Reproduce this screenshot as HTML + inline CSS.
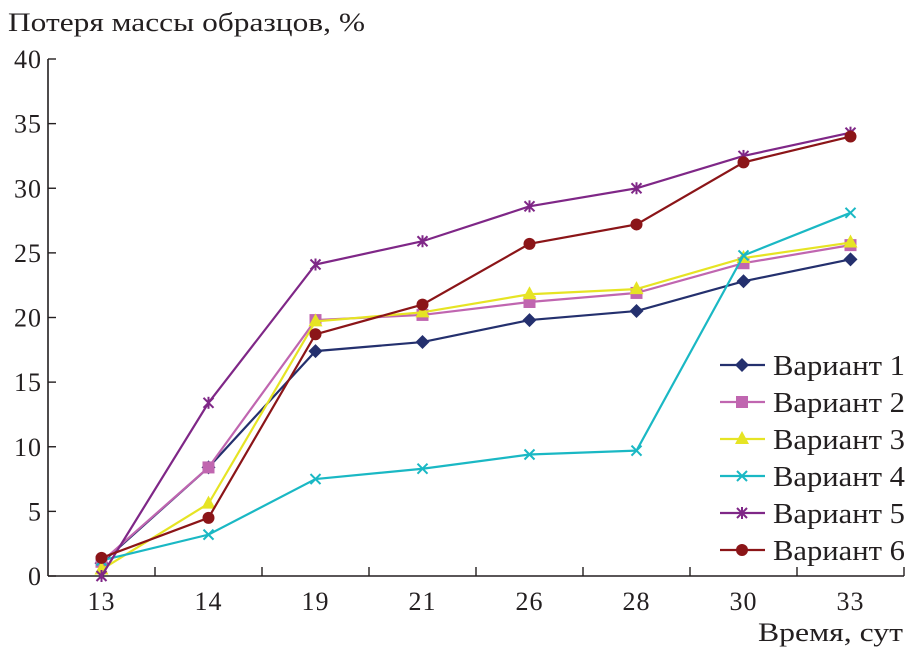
<!DOCTYPE html>
<html><head><meta charset="utf-8"><style>
html,body{margin:0;padding:0;background:#fff;}
svg{display:block;font-family:"Liberation Serif","DejaVu Serif",serif;}
</style></head><body>
<svg id="chart" width="921" height="658" viewBox="0 0 921 658">
<text x="8" y="31" font-size="26" fill="#231f20" textLength="357" lengthAdjust="spacingAndGlyphs">Потеря массы образцов, %</text>
<text x="758" y="641" font-size="26" fill="#231f20" textLength="145" lengthAdjust="spacingAndGlyphs">Время, сут</text>
<g id="axes"></g>
<g id="series"></g>
<g id="legend"></g>
</svg>
<script>
const categories = ["13","14","19","21","26","28","30","33"];
const yTicks = [0,5,10,15,20,25,30,35,40];
const seriesNames = ["Вариант 1","Вариант 2","Вариант 3","Вариант 4","Вариант 5","Вариант 6"];
const v1 = [1.0, 8.4, 17.4, 18.1, 19.8, 20.5, 22.8, 24.5];
const v2 = [1.1, 8.4, 19.8, 20.2, 21.2, 21.9, 24.2, 25.6];
const v3 = [0.5, 5.6, 19.7, 20.4, 21.8, 22.2, 24.6, 25.8];
const v4 = [1.2, 3.2, 7.5, 8.3, 9.4, 9.7, 24.8, 28.1];
const v5 = [0.0, 13.4, 24.1, 25.9, 28.6, 30.0, 32.5, 34.3];
const v6 = [1.4, 4.5, 18.7, 21.0, 25.7, 27.2, 32.0, 34.0];

const NS="http://www.w3.org/2000/svg";
const X0=48, X1=904, Y0=576, Y1=59, YMAX=40;
const band=(X1-X0)/categories.length;
const xs=i=>X0+band*(i+0.5);
const ys=v=>Y0-(Y0-Y1)*v/YMAX;
function mk(tag,attrs,parent){const e=document.createElementNS(NS,tag);for(const k in attrs)e.setAttribute(k,attrs[k]);parent.appendChild(e);return e;}
const axes=document.getElementById('axes');
let e;
e=mk('line',{x1:X0,y1:Y1,x2:X0,y2:Y0,stroke:'#231f20','stroke-width':1.6},axes);


e=mk('line',{x1:X0,y1:Y0,x2:X1,y2:Y0,stroke:'#231f20','stroke-width':1.6},axes);


yTicks.forEach(t=>{
  const y=ys(t);
  mk('line',{x1:X0,y1:y,x2:X0+8,y2:y,stroke:'#231f20','stroke-width':1.4},axes);
  e=mk('text',{x:X0-6,y:y+9,'font-size':26,'text-anchor':'end',fill:'#231f20','letter-spacing':1},axes);
  e.textContent=t;
  
  
});
for(let i=1;i<=categories.length;i++){
  const x=X0+band*i;
  mk('line',{x1:x,y1:Y0,x2:x,y2:Y0-9,stroke:'#231f20','stroke-width':1.4},axes);
}
categories.forEach((c,i)=>{
  e=mk('text',{x:xs(i),y:Y0+34,'font-size':26,'text-anchor':'middle',fill:'#231f20','letter-spacing':1},axes);
  e.textContent=c;
  
  
});
const colors=['#24306e','#c066b0','#e6e424','#1ab8c4','#7f2787','#8b1518'];
const markers=['diamond','square','triangle','x','star','circle'];
function marker(type,x,y,col,g){
  if(type==='diamond')return mk('polygon',{points:`${x},${y-7} ${x+7},${y} ${x},${y+7} ${x-7},${y}`,fill:col},g);
  if(type==='square')return mk('rect',{x:x-6,y:y-6,width:12,height:12,fill:col},g);
  if(type==='triangle')return mk('polygon',{points:`${x},${y-8} ${x+7},${y+5} ${x-7},${y+5}`,fill:col},g);
  if(type==='circle')return mk('circle',{cx:x,cy:y,r:6,fill:col},g);
  const gg=mk('g',{stroke:col,'stroke-width':2},g);
  mk('line',{x1:x-5,y1:y-5,x2:x+5,y2:y+5},gg);mk('line',{x1:x-5,y1:y+5,x2:x+5,y2:y-5},gg);
  if(type==='star')mk('line',{x1:x,y1:y-6,x2:x,y2:y+6},gg);
  return gg;
}
const data=[v1,v2,v3,v4,v5,v6];
const sg=document.getElementById('series');
data.forEach((vals,s)=>{
  const g=mk('g',{},sg);
  
  
  const line=mk('polyline',{points:vals.map((v,i)=>xs(i)+','+ys(v)).join(' '),fill:'none',stroke:colors[s],'stroke-width':2.2},g);
  
  
  vals.forEach((v,i)=>{
    const m=marker(markers[s],xs(i),ys(v),colors[s],g);
    
    
  });
});
const lg=document.getElementById('legend');


seriesNames.forEach((n,s)=>{
  const y=365+s*37;
  const g=mk('g',{},lg);
  
  
  mk('line',{x1:720,y1:y,x2:765,y2:y,stroke:colors[s],'stroke-width':2.2},g);
  marker(markers[s],742,y,colors[s],g);
  const t=mk('text',{x:773,y:y+10,'font-size':28,fill:'#231f20',textLength:132,lengthAdjust:'spacingAndGlyphs'},g);
  t.textContent=n;
});
</script>
</body></html>
